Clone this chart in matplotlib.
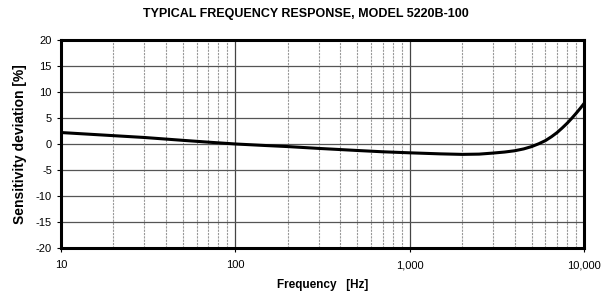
import matplotlib.pyplot as plt
from matplotlib.ticker import FixedLocator, FuncFormatter, NullFormatter

plt.rcParams['font.family'] = ['Liberation Sans', 'DejaVu Sans']
plt.rcParams['axes.unicode_minus'] = False

# data
freq = [10, 20, 30, 50, 70, 100, 150, 200, 300, 500, 700, 1000, 1500, 2000,
        2500, 3000, 3500, 4000, 4500, 5000, 5500, 6000, 6500, 7000, 7500,
        8000, 8500, 9000, 9500, 10000]
deviation = [2.2, 1.6, 1.25, 0.7, 0.35, 0.0, -0.3, -0.5, -0.85, -1.25, -1.5,
             -1.7, -1.9, -2.0, -1.95, -1.75, -1.55, -1.3, -0.95, -0.5, 0.05,
             0.65, 1.4, 2.2, 3.1, 4.0, 4.95, 5.9, 6.85, 7.8]
yticks = [-20, -15, -10, -5, 0, 5, 10, 15, 20]
xticks = [10, 100, 1000, 10000]

fig = plt.figure(figsize=(6.11, 2.93), dpi=100)
ax = fig.add_axes([0.0998, 0.1536, 0.8562, 0.71])

ax.plot(freq, deviation, color='black', lw=2.2, zorder=3)

ax.set_xscale('log')
ax.set_xlim(10, 10000)
ax.set_ylim(-20, 20)
ax.xaxis.set_major_locator(FixedLocator(xticks))
ax.xaxis.set_major_formatter(FuncFormatter(lambda v, p: '{:,.0f}'.format(v)))
minors = [m * d for d in (10, 100, 1000) for m in range(2, 10)]
ax.xaxis.set_minor_locator(FixedLocator(minors))
ax.xaxis.set_minor_formatter(NullFormatter())
ax.set_yticks(yticks)

ax.grid(which='minor', axis='x', color='#999999', lw=0.8, ls=(0, (2, 1)))
ax.grid(which='major', axis='x', color='#444444', lw=0.9)
ax.grid(which='major', axis='y', color='#555555', lw=0.9)
ax.tick_params(which='minor', length=0)
ax.tick_params(which='major', direction='out', length=3, width=0.8,
               labelsize=8, pad=3.5)
ax.tick_params(axis='x', pad=6)

for s in ax.spines.values():
    s.set_linewidth(2.2)

ax.set_xlabel('Frequency   [Hz]', fontsize=8.5, fontweight='bold', labelpad=6)
ax.set_ylabel('Sensitivity deviation [%]', fontsize=10, fontweight='bold',
              labelpad=6)
fig.suptitle('TYPICAL FREQUENCY RESPONSE, MODEL 5220B-100', fontsize=9,
             fontweight='bold', x=0.5, y=0.972)

fig.savefig('out.png', dpi=100)
